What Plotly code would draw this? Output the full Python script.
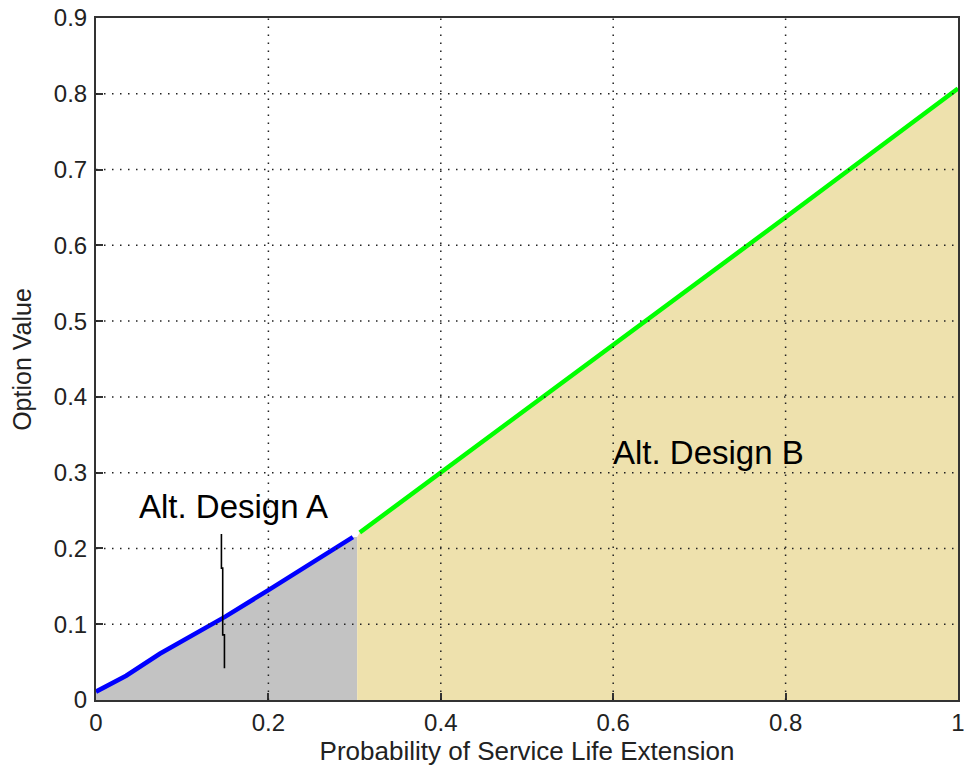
import plotly.graph_objects as go

# Option value curves for the two alternative designs
design_a_x = [0.0, 0.035, 0.074, 0.15, 0.2, 0.25, 0.298]
design_a_y = [0.011, 0.032, 0.061, 0.110, 0.145, 0.180, 0.215]
design_a_edge = 0.303

design_b_x = [0.306, 0.4, 0.6, 0.8, 1.0]
design_b_y = [0.221, 0.300, 0.468, 0.637, 0.807]

# Pointer line under the "Alt. Design A" label
pointer_x = [0.1455, 0.1455, 0.147, 0.147, 0.149, 0.149]
pointer_y = [0.219, 0.174, 0.174, 0.086, 0.086, 0.042]

x_ticks = [0, 0.2, 0.4, 0.6, 0.8, 1.0]
x_tick_text = ["0", "0.2", "0.4", "0.6", "0.8", "1"]
y_ticks = [0, 0.1, 0.2, 0.3, 0.4, 0.5, 0.6, 0.7, 0.8, 0.9]
y_tick_text = ["0", "0.1", "0.2", "0.3", "0.4", "0.5", "0.6", "0.7", "0.8", "0.9"]

label_a = "Alt. Design A"
label_b = "Alt. Design B"

GRAY_FILL = "#C3C3C3"
TAN_FILL = "#EEE1AD"
FONT = "Liberation Sans, Arial, sans-serif"

fig = go.Figure()

# shaded regions under each curve
fig.add_trace(go.Scatter(
    x=design_a_x + [design_a_edge], y=design_a_y + [design_a_y[-1]],
    mode="lines", line=dict(width=0), fill="tozeroy", fillcolor=GRAY_FILL,
    hoverinfo="skip", showlegend=False))
fig.add_trace(go.Scatter(
    x=[design_a_edge] + design_b_x, y=[design_a_y[-1]] + design_b_y,
    mode="lines", line=dict(width=0), fill="tozeroy", fillcolor=TAN_FILL,
    hoverinfo="skip", showlegend=False))

# curves
fig.add_trace(go.Scatter(x=design_a_x, y=design_a_y, mode="lines",
                         line=dict(color="#0000FF", width=4.5), showlegend=False))
fig.add_trace(go.Scatter(x=design_b_x, y=design_b_y, mode="lines",
                         line=dict(color="#00FF00", width=4.5), showlegend=False))
fig.add_trace(go.Scatter(x=pointer_x, y=pointer_y, mode="lines",
                         line=dict(color="black", width=1.6), showlegend=False))

# dotted grid drawn above the shaded areas
grid_style = dict(color="#222222", width=1.5, dash="1.5px,6.5px")
for xv in x_ticks[1:-1]:
    fig.add_shape(type="line", xref="x", yref="y", x0=xv, x1=xv, y0=0, y1=0.9,
                  line=grid_style, layer="above")
for yv in y_ticks[1:-1]:
    fig.add_shape(type="line", xref="x", yref="y", x0=0, x1=1, y0=yv, y1=yv,
                  line=grid_style, layer="above")

fig.add_annotation(x=0.16, y=0.255, text=label_a, showarrow=False,
                   font=dict(family=FONT, size=33, color="black"))
fig.add_annotation(x=0.711, y=0.326, text=label_b, showarrow=False,
                   font=dict(family=FONT, size=33, color="black"))

# y-axis title placed in paper coordinates
fig.add_annotation(xref="paper", yref="paper", x=-0.086, y=0.5, xanchor="center",
                   yanchor="middle", text="Option Value", textangle=-90,
                   showarrow=False, font=dict(family=FONT, size=25, color="#222222"))

axis_common = dict(
    showgrid=False, zeroline=False, showline=True, linecolor="#333333",
    linewidth=2, mirror=True, ticks="inside", ticklen=7, tickwidth=1.5,
    tickcolor="#333333", tickfont=dict(family=FONT, size=24, color="#222222"),
    ticklabeloverflow="allow", layer="above traces")

fig.update_xaxes(range=[0, 1], tickvals=x_ticks, ticktext=x_tick_text,
                 title=dict(text="Probability of Service Life Extension",
                            font=dict(family=FONT, size=26, color="#222222"),
                            standoff=4),
                 **axis_common)
fig.update_yaxes(range=[0, 0.9], tickvals=y_ticks, ticktext=y_tick_text,
                 ticklabelstandoff=2, **axis_common)

fig.update_layout(
    width=964, height=773,
    margin=dict(l=96, r=6, t=18, b=73, autoexpand=False),
    paper_bgcolor="white", plot_bgcolor="white",
)

fig.write_html("out.html")
